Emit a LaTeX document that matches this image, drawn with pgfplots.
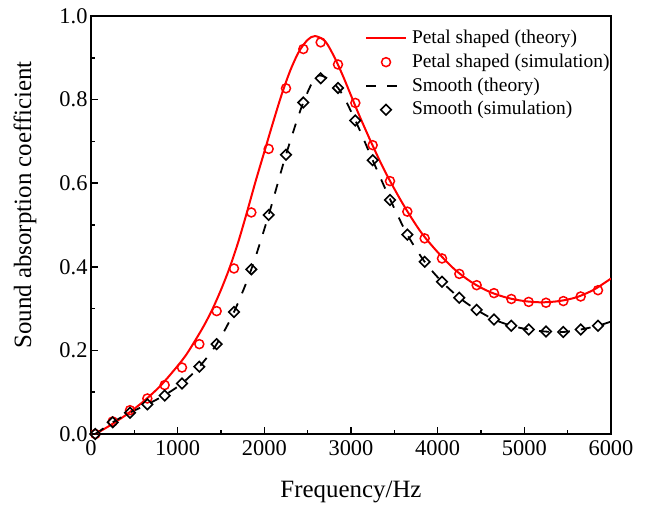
\documentclass[border=0pt]{standalone}
\usepackage{fontspec}
\setmainfont{Liberation Serif}
\usepackage{pgfplots}
\pgfplotsset{compat=1.18}
\definecolor{pred}{RGB}{255,0,0}
\pgfplotsset{
  lineleg/.style={legend image code/.code={\draw[##1] (0bp,0bp) -- (40bp,0bp);}},
  markleg/.style={legend image code/.code={\draw[##1] plot coordinates {(20bp,0bp)};}},
}
\begin{document}
\begin{tikzpicture}
\useasboundingbox (-91bp,-72bp) rectangle (558bp,434bp);
\begin{axis}[
  scale only axis, width=520bp, height=418bp,
  xmin=0, xmax=6000, ymin=0, ymax=1.0,
  xtick={0,1000,...,6000}, ytick={0,0.2,...,1.0},
  minor x tick num=1, minor y tick num=1,
  tick pos=left, tick align=inside,
  major tick length=7bp, minor tick length=4bp,
  tick style={line width=1.5bp, black},
  axis line style={line width=2bp},
  /pgf/number format/assume math mode=true,
  xticklabel style={font=\fontsize{22.5}{26}\selectfont, /pgf/number format/1000 sep={}, yshift=-3bp},
  yticklabel style={font=\fontsize{22.5}{26}\selectfont, /pgf/number format/.cd, fixed, fixed zerofill, precision=1},
  xlabel={Frequency/Hz}, ylabel={Sound absorption coefficient},
  xlabel style={font=\fontsize{25}{30}\selectfont, at={(axis description cs:0.5,-0.151)}, anchor=base},
  ylabel style={font=\fontsize{25}{30}\selectfont, at={(axis description cs:-0.115,0.548)}, anchor=base},
  legend style={draw=none, fill=none, inner sep=0pt, outer sep=0pt,
    at={(0.527,0.975)}, anchor=north west, row sep=0pt, column sep=5bp,
    font=\fontsize{19.5}{23}\selectfont,
    nodes={inner sep=0pt, text height=17bp, text depth=6.8bp}},
  legend cell align=left,
]
\addplot[pred, line width=2bp, smooth, tension=0.5, lineleg]
coordinates {
(50,0) (200,0.018) (400,0.045) (600,0.077) (800,0.115) (1000,0.163)
(1100,0.19) (1200,0.223) (1300,0.258) (1400,0.298) (1500,0.345)
(1600,0.398) (1700,0.46) (1800,0.531) (1900,0.605) (2000,0.675)
(2100,0.745) (2200,0.812) (2300,0.87) (2400,0.915) (2500,0.943)
(2585,0.952) (2700,0.94) (2800,0.905)
(2900,0.86) (3000,0.81) (3100,0.76) (3250,0.69) (3400,0.625)
(3600,0.55) (3800,0.485) (4000,0.435) (4200,0.393) (4400,0.362)
(4600,0.34) (4800,0.326) (5000,0.318) (5200,0.315) (5400,0.318)
(5600,0.327) (5800,0.345) (6000,0.372)};
\addlegendentry{Petal shaped (theory)}
\addplot[pred, only marks, mark=o, mark size=4.5bp, line width=1.5bp, markleg]
coordinates {
(50,0.0) (250,0.03) (450,0.057) (650,0.085) (850,0.117) (1050,0.159)
(1250,0.215) (1450,0.294) (1650,0.396) (1850,0.530) (2050,0.682)
(2250,0.827) (2450,0.921) (2650,0.937) (2850,0.884) (3050,0.792)
(3250,0.691) (3450,0.605) (3650,0.532) (3850,0.468) (4050,0.420)
(4250,0.383) (4450,0.356) (4650,0.337) (4850,0.323) (5050,0.316)
(5250,0.314) (5450,0.318) (5650,0.329) (5850,0.344)};
\addlegendentry{Petal shaped (simulation)}
\addplot[black, line width=1.8bp, dash pattern=on 10bp off 11bp, smooth, tension=0.5, lineleg]
coordinates {
(50,0.0) (250,0.028) (450,0.051) (650,0.071) (850,0.093) (1050,0.121)
(1250,0.161) (1450,0.215) (1650,0.292) (1850,0.394) (2050,0.524)
(2250,0.668) (2450,0.793) (2620,0.857) (2850,0.828) (3050,0.750)
(3250,0.655) (3450,0.562) (3650,0.477) (3850,0.412) (4050,0.364)
(4250,0.326) (4450,0.297) (4650,0.274) (4850,0.259) (5050,0.250)
(5250,0.245) (5450,0.244) (5650,0.250) (5850,0.259) (6000,0.269)};
\addlegendentry{Smooth (theory)}
\addplot[black, only marks, mark=square, mark size=3.7bp, line width=1.6bp,
  mark options={rotate=45, solid}, markleg]
coordinates {
(50,0.0) (250,0.028) (450,0.051) (650,0.071) (850,0.092) (1050,0.121)
(1250,0.161) (1450,0.215) (1650,0.292) (1850,0.394) (2050,0.524)
(2250,0.668) (2450,0.793) (2650,0.851) (2850,0.828) (3050,0.750)
(3250,0.655) (3450,0.560) (3650,0.477) (3850,0.412) (4050,0.364)
(4250,0.326) (4450,0.297) (4650,0.274) (4850,0.259) (5050,0.250)
(5250,0.245) (5450,0.244) (5650,0.250) (5850,0.259)};
\addlegendentry{Smooth (simulation)}
\end{axis}
\end{tikzpicture}
\end{document}
